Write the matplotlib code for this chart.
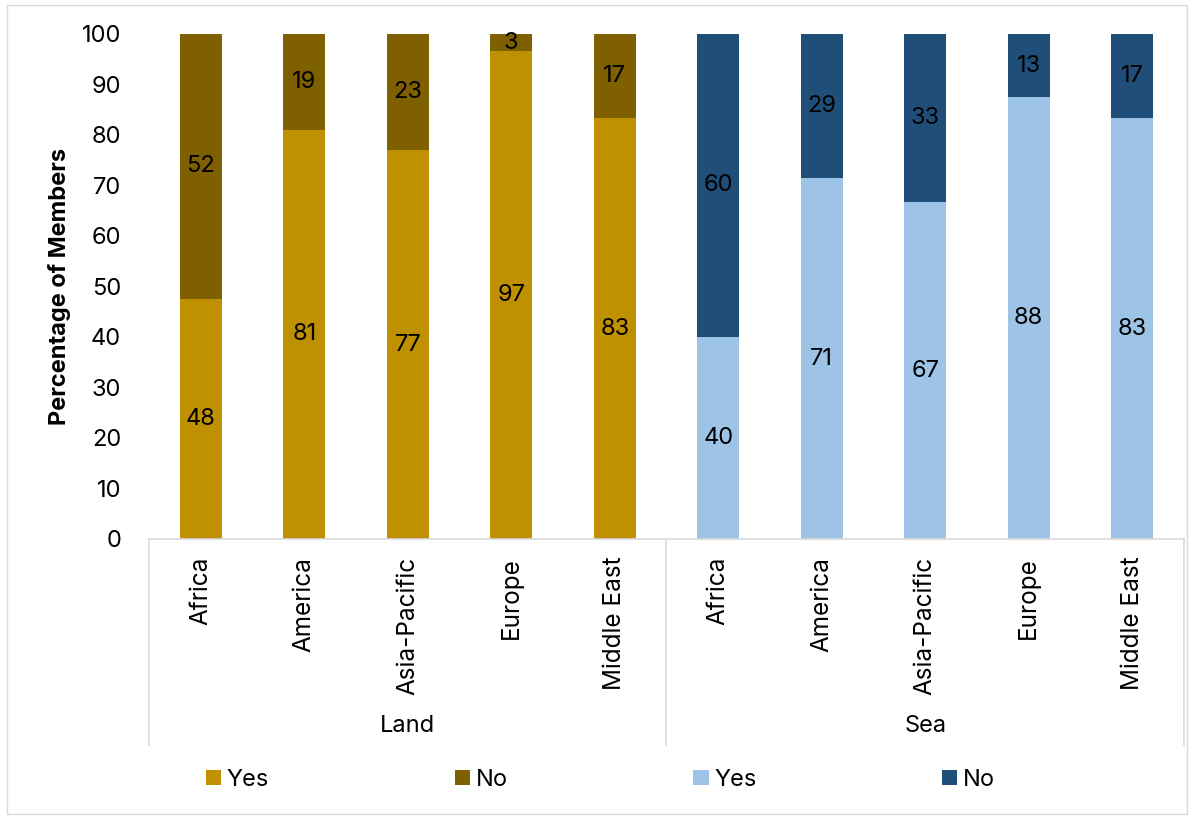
import math
import matplotlib
matplotlib.use("Agg")
import matplotlib.pyplot as plt
from matplotlib.patches import Rectangle
from matplotlib.transforms import blended_transform_factory

plt.rcParams['font.family'] = ['Inter', 'DejaVu Sans']

regions = ["Africa", "America", "Asia-Pacific", "Europe", "Middle East"]
groups = ["Land", "Sea"]
land_yes = [47.6, 81.0, 77.0, 96.6, 83.3]
land_no = [52.4, 19.0, 23.0, 3.4, 16.7]
sea_yes = [40.0, 71.4, 66.7, 87.5, 83.3]
sea_no = [60.0, 28.6, 33.3, 12.5, 16.7]
yticks = [0, 10, 20, 30, 40, 50, 60, 70, 80, 90, 100]

c_land_yes = "#BF9000"
c_land_no = "#7F6000"
c_sea_yes = "#9DC3E6"
c_sea_no = "#1F4E79"

FS = 17

fig = plt.figure(figsize=(11.94, 8.19), dpi=100)
ax = fig.add_axes([0.1248, 0.3419, 0.8668, 0.6166])

n = len(regions)
x_land = list(range(n))
x_sea = [i + n for i in range(n)]
w = 0.41

b1 = ax.bar(x_land, land_yes, w, color=c_land_yes, label="Yes")
b2 = ax.bar(x_land, land_no, w, bottom=land_yes, color=c_land_no, label="No")
b3 = ax.bar(x_sea, sea_yes, w, color=c_sea_yes, label="Yes")
b4 = ax.bar(x_sea, sea_no, w, bottom=sea_yes, color=c_sea_no, label="No")

def lab(v):
    return str(int(math.floor(v + 0.5)))

for xs, ys, ns in [(x_land, land_yes, land_no), (x_sea, sea_yes, sea_no)]:
    for xi, y, nn in zip(xs, ys, ns):
        ax.text(xi, y / 2, lab(y), ha='center', va='center', fontsize=FS, color='black')
        ax.text(xi, y + nn / 2, lab(nn), ha='center', va='center', fontsize=FS, color='black')

ax.set_xlim(-0.5, 2 * n - 0.5)
ax.set_ylim(0, 100)
ax.set_yticks(yticks)
ax.tick_params(axis='y', length=0, labelsize=FS, pad=20)
ax.set_xticks([])
for s in ['top', 'right', 'left']:
    ax.spines[s].set_visible(False)
ax.spines['bottom'].set_color('#D9D9D9')
ax.spines['bottom'].set_linewidth(1.2)
ax.set_ylabel("Percentage of Members", fontsize=17, fontweight='bold', labelpad=8)

trans = blended_transform_factory(ax.transData, ax.transAxes)
for xi, r in zip(x_land + x_sea, regions + regions):
    ax.text(xi, -0.035, r, rotation=90, ha='center', va='top', fontsize=17.5, transform=trans)

for xb in [-0.5, n - 0.5, 2 * n - 0.5]:
    ax.plot([xb, xb], [0, -0.408], color='#D9D9D9', lw=1.2, transform=trans, clip_on=False)

ax.text((n - 1) / 2, -0.37, groups[0], ha='center', va='center', fontsize=FS, transform=trans)
ax.text(n + (n - 1) / 2, -0.37, groups[1], ha='center', va='center', fontsize=FS, transform=trans)

leg = fig.legend(handles=[b1, b2, b3, b4], labels=["Yes", "No", "Yes", "No"],
                 loc='center', bbox_to_anchor=(0.503, 0.048), ncol=4, frameon=False,
                 fontsize=FS, handlelength=0.65, handleheight=0.65, handletextpad=0.25,
                 columnspacing=7.85)

fig.patches.append(Rectangle((0.006, 0.006), 0.988, 0.988, transform=fig.transFigure,
                             fill=False, edgecolor='#D9D9D9', lw=1.0))

fig.savefig("out.png", dpi=100)
